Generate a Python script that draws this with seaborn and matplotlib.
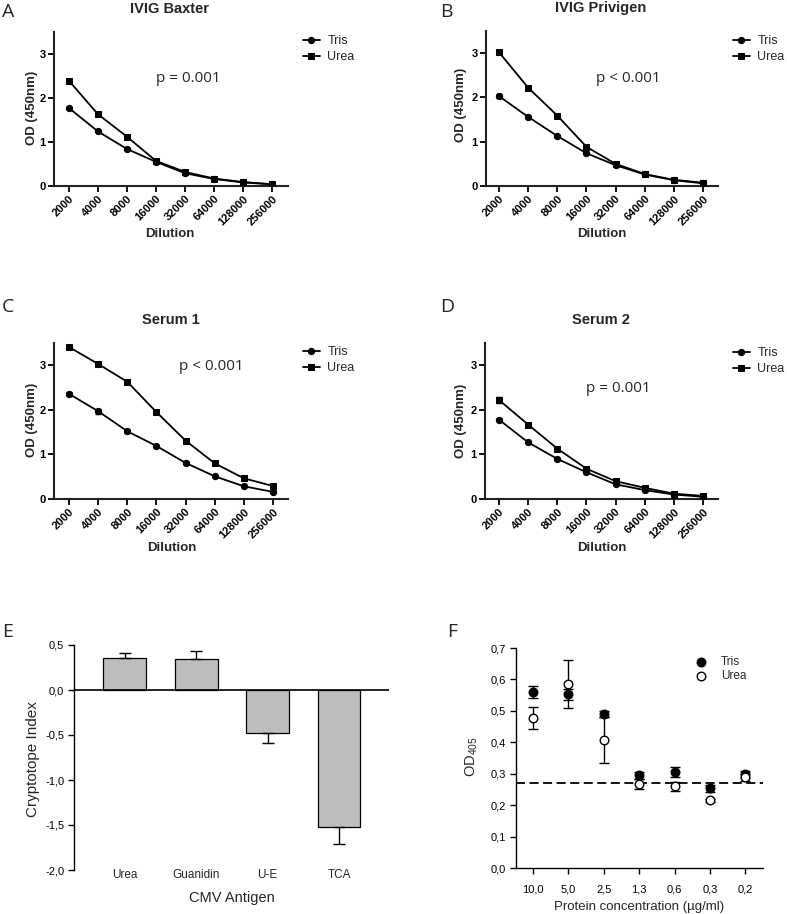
import numpy as np
import pandas as pd
import matplotlib
matplotlib.use("Agg")
import matplotlib.pyplot as plt
import seaborn as sns
from matplotlib.transforms import Affine2D

# ---------------- data ----------------
dilutions = [2000, 4000, 8000, 16000, 32000, 64000, 128000, 256000]
dilution_labels = [str(d) for d in dilutions]

titles = ["IVIG Baxter", "IVIG Privigen", "Serum 1", "Serum 2"]
panel_letters = ["A", "B", "C", "D", "E", "F"]
p_texts = ["p = 0.001", "p < 0.001", "p < 0.001", "p = 0.001"]
ab_ticks = [0, 1, 2, 3]

baxter_tris = [1.77, 1.24, 0.84, 0.55, 0.29, 0.16, 0.08, 0.04]
baxter_urea = [2.39, 1.63, 1.12, 0.57, 0.32, 0.17, 0.09, 0.04]
privigen_tris = [2.03, 1.56, 1.13, 0.74, 0.47, 0.26, 0.13, 0.06]
privigen_urea = [3.02, 2.22, 1.59, 0.885, 0.50, 0.27, 0.14, 0.075]
serum1_tris = [2.36, 1.97, 1.52, 1.19, 0.81, 0.51, 0.285, 0.16]
serum1_urea = [3.41, 3.03, 2.63, 1.95, 1.31, 0.80, 0.465, 0.29]
serum2_tris = [1.78, 1.27, 0.90, 0.60, 0.33, 0.20, 0.10, 0.05]
serum2_urea = [2.22, 1.67, 1.13, 0.68, 0.40, 0.25, 0.12, 0.07]

baxter_tris_sd = [0.03, 0.02, 0.02, 0.02, 0.01, 0.01, 0.01, 0.01]
baxter_urea_sd = [0.02, 0.02, 0.05, 0.02, 0.02, 0.01, 0.02, 0.01]
privigen_tris_sd = [0.04, 0.02, 0.02, 0.02, 0.01, 0.01, 0.01, 0.01]
privigen_urea_sd = [0.05, 0.02, 0.03, 0.02, 0.02, 0.02, 0.01, 0.01]
serum1_tris_sd = [0.05, 0.06, 0.03, 0.02, 0.02, 0.02, 0.01, 0.01]
serum1_urea_sd = [0.02, 0.03, 0.03, 0.03, 0.02, 0.02, 0.02, 0.01]
serum2_tris_sd = [0.03, 0.02, 0.02, 0.02, 0.01, 0.01, 0.01, 0.01]
serum2_urea_sd = [0.06, 0.03, 0.03, 0.02, 0.02, 0.02, 0.02, 0.01]

antigens = ["Urea", "Guanidin", "U-E", "TCA"]
cryptotope_index = [0.36, 0.34, -0.48, -1.52]
cryptotope_err = [0.05, 0.09, 0.11, 0.19]
e_ticks = [-2.0, -1.5, -1.0, -0.5, 0.0, 0.5]
e_tick_labels = ["-2,0", "-1,5", "-1,0", "-0,5", "0,0", "0,5"]

conc_labels = ["10,0", "5,0", "2,5", "1,3", "0,6", "0,3", "0,2"]
f_tris = [0.560, 0.553, 0.490, 0.295, 0.305, 0.253, 0.298]
f_tris_err = [0.018, 0.018, 0.008, 0.012, 0.015, 0.010, 0.012]
f_urea = [0.477, 0.585, 0.408, 0.267, 0.260, 0.215, 0.288]
f_urea_err = [0.036, 0.077, 0.074, 0.017, 0.014, 0.006, 0.010]
cutoff = 0.27
f_ticks = [0.0, 0.1, 0.2, 0.3, 0.4, 0.5, 0.6, 0.7]
f_tick_labels = ["0,0", "0,1", "0,2", "0,3", "0,4", "0,5", "0,6", "0,7"]

# ---------------- style ----------------
sns.set_style("ticks")
plt.rcParams["font.family"] = ["Liberation Sans", "DejaVu Sans"]
plt.rcParams["mathtext.fontset"] = "custom"
plt.rcParams["mathtext.rm"] = "Liberation Sans"
plt.rcParams["mathtext.it"] = "Liberation Sans:italic"
plt.rcParams["mathtext.bf"] = "Liberation Sans:bold"

W, H = 787, 914
fig = plt.figure(figsize=(W / 100, H / 100), dpi=100, facecolor="white")
T = Affine2D().scale(1 / W, -1 / H).translate(0, 1) + fig.transFigure


def add_ax(l, t, r, b):
    return fig.add_axes([l / W, 1 - b / H, (r - l) / W, (b - t) / H])


LETTER_FONT = ["Open Sans", "DejaVu Sans"]

# ---------------- panels A-D ----------------
line_panels = [
    dict(rect=(54, 32, 288, 186), x0=69, dx=29.0, tris=baxter_tris, urea=baxter_urea,
         tsd=baxter_tris_sd, usd=baxter_urea_sd, title=(170, 9), letter=(8, 12),
         p=(188, 78), leg=(303, 35), ylab=(32, 108), xlab=(170, 234)),
    dict(rect=(486, 31, 718, 186), x0=499, dx=29.14, tris=privigen_tris, urea=privigen_urea,
         tsd=privigen_tris_sd, usd=privigen_urea_sd, title=(601, 8), letter=(446, 12),
         p=(628, 78), leg=(733, 35), ylab=(461, 105), xlab=(602, 234)),
    dict(rect=(54, 343, 288, 499), x0=69, dx=29.14, tris=serum1_tris, urea=serum1_urea,
         tsd=serum1_tris_sd, usd=serum1_urea_sd, title=(171, 320), letter=(8, 307),
         p=(211, 367), leg=(303, 346), ylab=(32, 420), xlab=(172, 548)),
    dict(rect=(485, 343, 718, 499), x0=499, dx=29.14, tris=serum2_tris, urea=serum2_urea,
         tsd=serum2_tris_sd, usd=serum2_urea_sd, title=(601, 320), letter=(447, 307),
         p=(618, 388), leg=(733, 347), ylab=(461, 421), xlab=(602, 548)),
]

xpos = np.log2(np.array(dilutions) / dilutions[0])

for i, P in enumerate(line_panels):
    l, t, r, b = P["rect"]
    ax = add_ax(l, t, r, b)
    ax.errorbar(xpos, P["tris"], yerr=P["tsd"], fmt="none", ecolor="k", elinewidth=0.8, capsize=2, zorder=2)
    ax.errorbar(xpos, P["urea"], yerr=P["usd"], fmt="none", ecolor="k", elinewidth=0.8, capsize=2, zorder=2)
    sns.lineplot(x=xpos, y=P["tris"], ax=ax, color="k", marker="o", markersize=4.5,
                 markeredgecolor="k", linewidth=1.3, label="Tris", zorder=3)
    sns.lineplot(x=xpos, y=P["urea"], ax=ax, color="k", marker="s", markersize=4.5,
                 markeredgecolor="k", linewidth=1.3, label="Urea", zorder=3)
    ax.set_xlim((l - P["x0"]) / P["dx"], (r - P["x0"]) / P["dx"])
    ax.set_ylim(0, 3.5)
    ax.set_yticks(ab_ticks)
    ax.set_yticklabels([str(v) for v in ab_ticks], fontweight="bold", fontsize=8)
    ax.set_xticks(xpos)
    ax.set_xticklabels(dilution_labels, rotation=45, ha="right", rotation_mode="anchor",
                       fontweight="bold", fontsize=8)
    ax.tick_params(axis="both", direction="out", length=4, width=1.3, pad=2, colors="k")
    ax.tick_params(axis="x", pad=1.5)
    sns.despine(ax=ax)
    for s in ("left", "bottom"):
        ax.spines[s].set_linewidth(1.5)
        ax.spines[s].set_color("#222222")
    ax.set_ylabel("OD (450nm)", fontweight="bold", fontsize=9.5)
    ax.yaxis.label.set(va="center", ha="center")
    ax.yaxis.set_label_coords(P["ylab"][0], P["ylab"][1], transform=T)
    ax.set_xlabel("Dilution", fontweight="bold", fontsize=9.5)
    ax.xaxis.label.set(va="center", ha="center")
    ax.xaxis.set_label_coords(P["xlab"][0], P["xlab"][1], transform=T)
    ax.text(P["title"][0], P["title"][1], titles[i], transform=T, ha="center", va="center",
            fontweight="bold", fontsize=10.5)
    fig.text(P["letter"][0], P["letter"][1], panel_letters[i], transform=T, ha="center",
             va="center", fontsize=14, family=LETTER_FONT)
    fig.text(P["p"][0], P["p"][1], p_texts[i], transform=T, ha="center", va="center",
             fontsize=11, family=LETTER_FONT)
    ax.legend(loc="upper left", bbox_to_anchor=P["leg"], bbox_transform=T, frameon=False,
              fontsize=9, handlelength=1.35, handletextpad=0.6, labelspacing=0.35,
              borderpad=0, borderaxespad=0)

# ---------------- panel E ----------------
axE = add_ax(74, 645, 389, 870)
sns.barplot(x=antigens, y=cryptotope_index, ax=axE, color="#bdbdbd", saturation=1,
            edgecolor="black", linewidth=0.9, width=0.6, errorbar=None)
ci = np.array(cryptotope_index)
ce = np.array(cryptotope_err)
lower = np.where(ci < 0, ce, 0)
upper = np.where(ci > 0, ce, 0)
axE.errorbar(np.arange(len(antigens)), ci, yerr=[lower, upper], fmt="none", ecolor="k",
             elinewidth=1.0, capsize=4, capthick=1.0, zorder=1)
axE.axhline(0, color="k", lw=1.2, zorder=5)
axE.set_xlim(-0.713, 3.70)
axE.set_ylim(-2.0, 0.5)
axE.set_yticks(e_ticks)
axE.set_yticklabels(e_tick_labels, fontsize=8)
axE.tick_params(axis="y", direction="out", length=4, width=1.0, pad=3, colors="k")
axE.tick_params(axis="x", length=0, pad=0, labelsize=8.5)
for lab in axE.get_xticklabels():
    lab.set_va("center")
    lab.set_transform(axE.get_xaxis_transform() + Affine2D().translate(0, -5))
sns.despine(ax=axE, bottom=True)
axE.spines["left"].set_linewidth(1.0)
axE.spines["left"].set_color("k")
axE.set_ylabel("Cryptotope Index", fontsize=11)
axE.yaxis.label.set(va="center", ha="center")
axE.yaxis.set_label_coords(33, 759, transform=T)
axE.set_xlabel("CMV Antigen", fontsize=10.5)
axE.xaxis.label.set(va="center", ha="center")
axE.xaxis.set_label_coords(232, 898, transform=T)
fig.text(8, 632, panel_letters[4], transform=T, ha="center", va="center", fontsize=14, family=LETTER_FONT)

# ---------------- panel F ----------------
axF = add_ax(516, 648, 763, 868)
xf = np.arange(len(conc_labels))
axF.errorbar(xf, f_tris, yerr=f_tris_err, fmt="none", ecolor="k", elinewidth=1.0, capsize=3.5, capthick=1.0, zorder=2)
axF.errorbar(xf, f_urea, yerr=f_urea_err, fmt="none", ecolor="k", elinewidth=1.0, capsize=3.5, capthick=1.0, zorder=2)
sns.scatterplot(x=xf, y=f_tris, ax=axF, color="black", edgecolor="black", s=38, linewidth=1, label="Tris", zorder=4)
sns.scatterplot(x=xf, y=f_urea, ax=axF, color="white", edgecolor="black", s=38, linewidth=1, label="Urea", zorder=4)
axF.axhline(cutoff, color="k", lw=1.3, ls=(0, (5, 2.5)), zorder=3)
axF.set_xlim(-0.48, 6.5)
axF.set_ylim(0, 0.7)
axF.set_yticks(f_ticks)
axF.set_yticklabels(f_tick_labels, fontsize=8)
axF.set_xticks(xf)
axF.set_xticklabels(conc_labels, fontsize=8)
axF.tick_params(axis="both", direction="out", length=4, width=1.0, colors="k")
axF.tick_params(axis="x", pad=8)
axF.tick_params(axis="y", pad=3)
sns.despine(ax=axF)
for s in ("left", "bottom"):
    axF.spines[s].set_linewidth(1.0)
    axF.spines[s].set_color("k")
axF.set_ylabel(r"OD$_{\mathrm{405}}$", fontsize=10.5)
axF.yaxis.label.set(va="center", ha="center")
axF.yaxis.set_label_coords(472, 757, transform=T)
axF.set_xlabel("Protein concentration (\u00b5g/ml)", fontsize=9.5)
axF.xaxis.label.set(va="center", ha="center")
axF.xaxis.set_label_coords(639, 907, transform=T)
axF.legend(loc="upper left", bbox_to_anchor=(696, 656), bbox_transform=T, frameon=False,
           fontsize=8.5, handlelength=0.8, handletextpad=1.3, labelspacing=0.2,
           borderpad=0, borderaxespad=0)
fig.text(452, 632, panel_letters[5], transform=T, ha="center", va="center", fontsize=14, family=LETTER_FONT)

fig.savefig("out.png", dpi=100, facecolor="white")
